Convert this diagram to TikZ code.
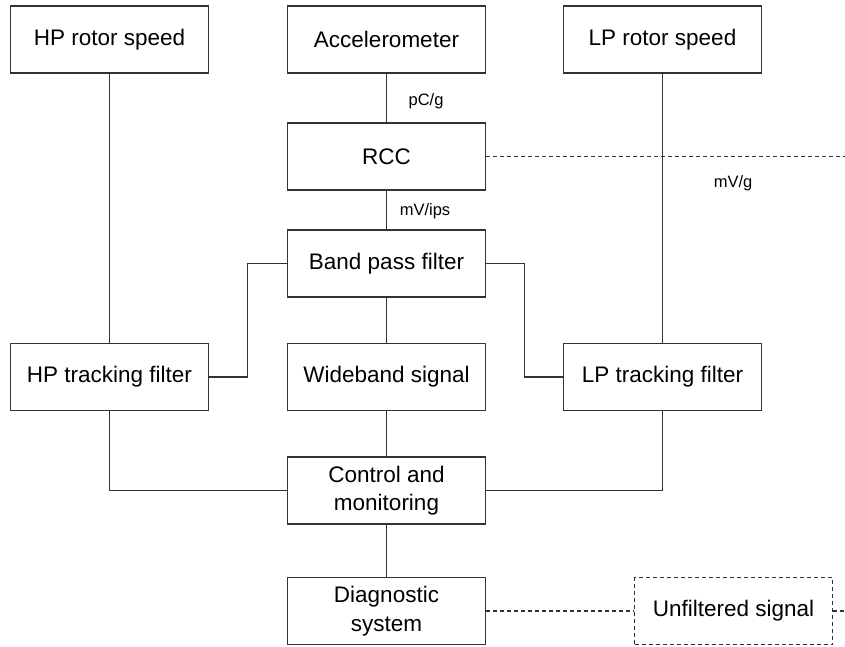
\documentclass[tikz,border=0pt]{standalone}
\usepackage{fontspec}
\setmainfont{Liberation Sans}
\begin{document}
\begin{tikzpicture}[x=1pt,y=-1pt,
  block/.style={draw=black!80, line width=1.4pt, minimum width=198pt, minimum height=67pt,
    align=center, inner sep=0pt, font=\fontsize{22.5}{28.5}\selectfont},
  dashblock/.style={block, dash pattern=on 4pt off 3pt},
  link/.style={draw=black!80, line width=1.4pt},
  dashlink/.style={link, dash pattern=on 4pt off 3pt},
  unit/.style={font=\fontsize{16.5}{20}\selectfont, inner sep=0pt}]
\useasboundingbox (0,0) rectangle (845,646);

% top row of sources
\node[block] (hprot) at (109.5,39.5) {HP rotor speed};
\node[block] (acc)   at (386.5,39.5) {Accelerometer};
\node[block] (lprot) at (662.5,39.5) {LP rotor speed};

% central signal chain
\node[block] (rcc)  at (386.5,156.5) {RCC};
\node[block] (bpf)  at (386.5,263.5) {Band pass filter};
\node[block] (hptf) at (109.5,377) {HP tracking filter};
\node[block] (wide) at (386.5,377) {Wideband signal};
\node[block] (lptf) at (662.5,377) {LP tracking filter};
\node[block] (ctrl) at (386.5,490.5) {Control and\\monitoring};
\node[block] (diag) at (386.5,611) {Diagnostic\\system};
\node[dashblock] (unf) at (733.5,611) {Unfiltered signal};

% open ends of the dashed outputs
\coordinate (rccout) at (845,156.5);
\coordinate (unfout) at (845,611);

% solid connections
\draw[link] (acc) -- (rcc);
\draw[link] (rcc) -- (bpf);
\draw[link] (bpf) -- (wide);
\draw[link] (wide) -- (ctrl);
\draw[link] (ctrl) -- (diag);
\draw[link] (hprot) -- (hptf);
\draw[link] (lprot) -- (lptf);
\draw[link] (bpf.west) -- ++(-39.5,0) |- (hptf.east);
\draw[link] (bpf.east) -- ++(38.5,0) |- (lptf.west);
\draw[link] (hptf.south) |- (ctrl.west);
\draw[link] (lptf.south) |- (ctrl.east);

% dashed connections
\draw[dashlink] (rcc.east) -- (rccout);
\draw[dashlink] (diag.east) -- (unf.west);
\draw[dashlink] (unf.east) -- (unfout);

% unit labels
\node[unit] (lblpc)  at (426,101) {pC/g};
\node[unit] (lblips) at (425,211) {mV/ips};
\node[unit] (lblmvg) at (733,183) {mV/g};
\end{tikzpicture}
\end{document}
